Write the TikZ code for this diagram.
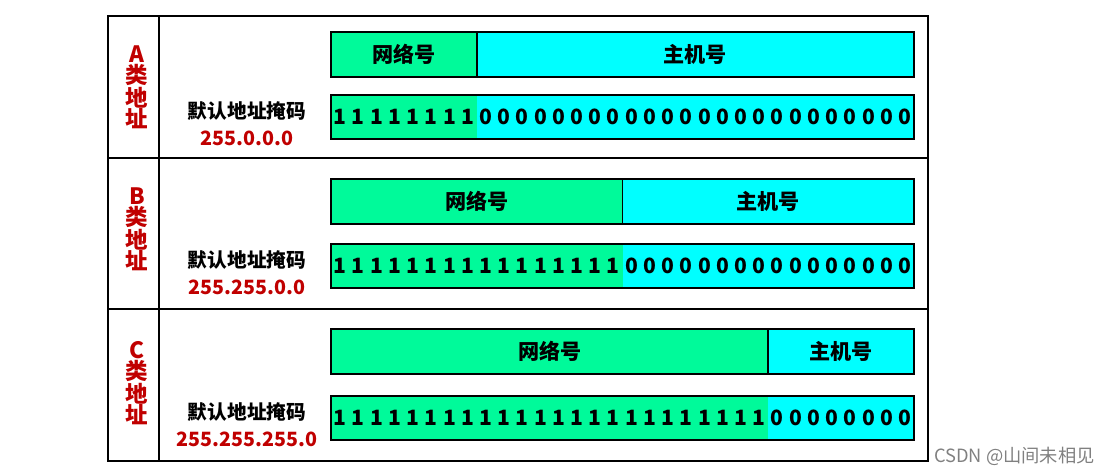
\documentclass[tikz,border=0pt]{standalone}
\usepackage{fontspec}
\setmainfont{Noto Sans CJK SC}
\definecolor{netgreen}{RGB}{0,250,154}
\definecolor{hostcyan}{RGB}{0,255,255}
\definecolor{maskred}{RGB}{192,0,0}
\tikzset{
  field/.style={draw=black, line width=1.2pt},
  fieldtext/.style={font=\fontsize{15}{18}\selectfont\bfseries},
  bit/.style={font=\fontsize{15}{18}\selectfont\bfseries, inner sep=0pt},
  classlabel/.style={align=center, text=maskred, font=\fontsize{16}{15}\selectfont\bfseries},
  masklabel/.style={font=\fontsize{14}{16}\selectfont\bfseries, inner sep=0pt},
}
\begin{document}
\begin{tikzpicture}[x=0.025cm, y=-0.025cm]
	\useasboundingbox (0,0) rectangle (1110,473);
	% table frame
	\draw[line width=1.4pt] (108,16) rectangle (928,461);
	\draw[line width=1.4pt] (159,16) -- (159,461);
	\draw[line width=1.4pt] (108,158) -- (928,158) (108,309) -- (928,309);
	% one row per class: class / mask / field top / bar top / ones / row middle
	\foreach \cls/\mask/\ytop/\ybar/\n/\ymid in {A/255.0.0.0/32/95/8/87, B/255.255.0.0/179/244/16/229, C/255.255.255.0/329/396/24/383}{
		\pgfmathsetmacro{\xs}{331+\n*18.22}
		% network and host fields
		\draw[field, fill=netgreen] (331,\ytop) rectangle (\xs,\ytop+45);
		\draw[field, fill=hostcyan] (\xs,\ytop) rectangle (914,\ytop+45);
		\node[fieldtext] (net\cls) at ({(331+\xs)/2},\ytop+22.5) {网络号};
		\node[fieldtext] (host\cls) at ({(\xs+914)/2},\ytop+22.5) {主机号};
		% mask bar
		\fill[netgreen] (331,\ybar) rectangle (\xs,\ybar+44);
		\fill[hostcyan] (\xs,\ybar) rectangle (914,\ybar+44);
		\draw[field] (331,\ybar) rectangle (914,\ybar+44);
		\foreach \k in {0,...,31}{
			\pgfmathtruncatemacro{\b}{\k<\n}
			\node[bit] (bit\cls\k) at (331+\k*18.22+9.11,\ybar+22) {\b};
		}
		% left labels
		\node[classlabel] (class\cls) at (137,\ymid) {\cls\\类\\地\\址};
		\node[masklabel] (mask\cls) at (247,\ybar+16) {默认地址掩码};
		\node[masklabel, text=maskred] (maskval\cls) at (247,\ybar+43) {\mask};
	}
	% watermark
	\node[text=gray, font=\fontsize{13}{15}\selectfont, anchor=east, inner sep=0pt] (csdn) at (1095,456) {CSDN @山间未相见};
\end{tikzpicture}
\end{document}
